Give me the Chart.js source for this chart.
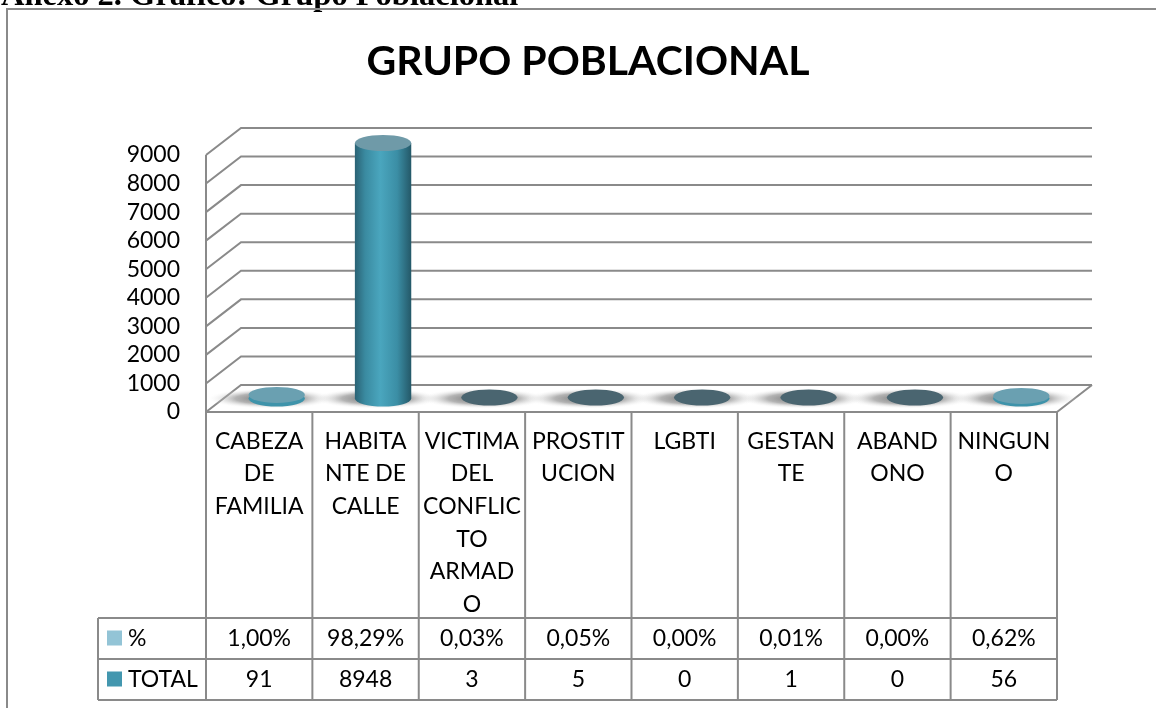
<!DOCTYPE html>
<html>
<head>
<meta charset="utf-8">
<script src="https://cdn.jsdelivr.net/npm/chart.js@4.4.0/dist/chart.umd.min.js"></script>
<style>
  html, body { margin: 0; padding: 0; background: #fff; overflow: hidden; }
</style>
</head>
<body>
<canvas id="grupoChart" width="1156" height="708"></canvas>
<script>
// Grupo poblacional - datos
const categorias = [
    ['CABEZA', 'DE', 'FAMILIA'],
    ['HABITA', 'NTE DE', 'CALLE'],
    ['VICTIMA', 'DEL', 'CONFLIC', 'TO', 'ARMAD', 'O'],
    ['PROSTIT', 'UCION'],
    ['LGBTI'],
    ['GESTAN', 'TE'],
    ['ABAND', 'ONO'],
    ['NINGUN', 'O']
];
const totales = [91, 8948, 3, 5, 0, 1, 0, 56];
const porcentajes = [1.00, 98.29, 0.03, 0.05, 0.00, 0.01, 0.00, 0.62];
const serieNombres = ['%', 'TOTAL'];

const DX = 35, DY = -27;          // profundidad 3D
const LINE = '#8a8a8a';
const FONT = 'Lato, "Open Sans", sans-serif';

function fmtPct(v) { return v.toFixed(2).replace('.', ',') + '%'; }

function ellipse(ctx, cx, cy, rx, ry) {
    ctx.beginPath();
    ctx.ellipse(cx, cy, rx, ry, 0, 0, Math.PI * 2);
}

const decor = {
    id: 'decor',
    beforeDatasetsDraw(chart) {
        const ctx = chart.ctx, a = chart.chartArea, y = chart.scales.y;
        ctx.save();
        // encabezado cortado y marco
        const encabezado = 'Anexo 2. Gráfico: Grupo Poblacional';
        ctx.fillStyle = '#000';
        ctx.font = 'bold 28px "Liberation Serif", serif';
        const fs = 28 * 518 / ctx.measureText(encabezado).width;
        ctx.font = 'bold ' + fs.toFixed(1) + 'px "Liberation Serif", serif';
        ctx.textBaseline = 'alphabetic';
        ctx.fillText(encabezado, 1, 5);
        ctx.strokeStyle = LINE;
        ctx.lineWidth = 2;
        ctx.beginPath();
        ctx.moveTo(7, 708); ctx.lineTo(7, 9); ctx.lineTo(1156, 9);
        ctx.stroke();
        // titulo
        ctx.font = 'bold 41px ' + FONT;
        ctx.textAlign = 'center';
        ctx.textBaseline = 'middle';
        ctx.fillText('GRUPO POBLACIONAL', 588, 62);

        // pared del fondo + lineas de division
        ctx.strokeStyle = LINE;
        ctx.lineWidth = 2;
        y.ticks.forEach(t => {
            const py = y.getPixelForValue(t.value);
            ctx.beginPath();
            ctx.moveTo(a.left, py);
            ctx.lineTo(a.left + DX, py + DY);
            ctx.lineTo(a.right + DX, py + DY);
            ctx.stroke();
        });
        // eje frontal
        ctx.beginPath();
        ctx.moveTo(a.left, y.getPixelForValue(9000));
        ctx.lineTo(a.left, a.bottom);
        ctx.stroke();
        // piso
        ctx.beginPath();
        ctx.moveTo(a.left, a.bottom);
        ctx.lineTo(a.right, a.bottom);
        ctx.lineTo(a.right + DX, a.bottom + DY);
        ctx.stroke();

        // sombras en el piso
        const meta = chart.getDatasetMeta(0);
        meta.data.forEach(el => {
            const cx = el.x + DX / 2, cy = el.base + DY / 2;
            ctx.save();
            ctx.translate(cx, cy);
            ctx.scale(1, 0.16);
            const g = ctx.createRadialGradient(-6, 0, 0, -6, 0, 64);
            g.addColorStop(0, 'rgba(80,80,80,0.9)');
            g.addColorStop(0.55, 'rgba(130,130,130,0.6)');
            g.addColorStop(1, 'rgba(255,255,255,0)');
            ctx.fillStyle = g;
            ellipse(ctx, -6, 0, 64, 64);
            ctx.fill();
            ctx.restore();
        });
        ctx.restore();
    },
    afterDatasetsDraw(chart) {
        const ctx = chart.ctx;
        const meta = chart.getDatasetMeta(0);
        ctx.save();
        meta.data.forEach((el, i) => {
            const cx = el.x + DX / 2;
            const top = el.y + DY / 2, base = el.base + DY / 2;
            const rx = el.width / 2, ry = 8;
            const h = base - top;
            if (h > 6) {
                const g = ctx.createLinearGradient(cx - rx, 0, cx + rx, 0);
                g.addColorStop(0, '#2a6274');
                g.addColorStop(0.18, '#3a8aa0');
                g.addColorStop(0.45, '#4aa6be');
                g.addColorStop(0.75, '#3b8ea5');
                g.addColorStop(1, '#245868');
                ctx.fillStyle = g;
                ctx.beginPath();
                ctx.moveTo(cx - rx, top);
                ctx.lineTo(cx - rx, base);
                ctx.ellipse(cx, base, rx, ry, 0, Math.PI, 0, true);
                ctx.lineTo(cx + rx, top);
                ctx.closePath();
                ctx.fill();
                ctx.fillStyle = '#6f9aa8';
                ellipse(ctx, cx, top, rx, ry);
                ctx.fill();
            } else if (totales[i] > 20) {
                ctx.fillStyle = '#3e93aa';
                ellipse(ctx, cx, base, rx, ry);
                ctx.fill();
                ctx.fillStyle = '#6aa0b1';
                ellipse(ctx, cx, top - 1, rx, ry);
                ctx.fill();
            } else {
                ctx.fillStyle = '#4a6570';
                ellipse(ctx, cx, base - 1, rx, ry);
                ctx.fill();
            }
        });
        ctx.restore();
    },
    afterDraw(chart) {
        const ctx = chart.ctx, a = chart.chartArea;
        const n = categorias.length, w = (a.right - a.left) / n;
        const tTop = 618, rowH = 41, tLeft = 98, tBottom = tTop + rowH * 2;
        ctx.save();
        ctx.strokeStyle = LINE;
        ctx.lineWidth = 2;
        // columnas de categorias
        for (let i = 0; i <= n; i++) {
            const x = a.left + i * w;
            ctx.beginPath();
            ctx.moveTo(x, a.bottom);
            ctx.lineTo(x, tBottom);
            ctx.stroke();
        }
        // filas de la tabla
        for (let r = 0; r <= 2; r++) {
            ctx.beginPath();
            ctx.moveTo(tLeft, tTop + r * rowH);
            ctx.lineTo(a.right, tTop + r * rowH);
            ctx.stroke();
        }
        ctx.beginPath();
        ctx.moveTo(tLeft, tTop);
        ctx.lineTo(tLeft, tBottom);
        ctx.stroke();

        // leyenda + valores
        const colores = ['#93c4d6', '#4397af'];
        const filas = [porcentajes.map(fmtPct), totales.map(String)];
        ctx.font = '23px ' + FONT;
        ctx.textBaseline = 'middle';
        filas.forEach((vals, r) => {
            const cy = tTop + r * rowH + rowH / 2;
            ctx.fillStyle = colores[r];
            ctx.fillRect(107, cy - 8, 15, 15);
            ctx.fillStyle = '#000';
            ctx.textAlign = 'left';
            ctx.fillText(serieNombres[r], 128, cy);
            ctx.textAlign = 'center';
            vals.forEach((v, i) => ctx.fillText(v, a.left + (i + 0.5) * w, cy));
        });
        ctx.restore();
    }
};

new Chart(document.getElementById('grupoChart'), {
    type: 'bar',
    data: {
        labels: categorias,
        datasets: [{
            label: 'TOTAL',
            data: totales,
            backgroundColor: 'rgba(0,0,0,0)',
            categoryPercentage: 1,
            barPercentage: 0.53
        }]
    },
    options: {
        responsive: false,
        animation: false,
        layout: { padding: { top: 155, right: 99, bottom: 0, left: 0 } },
        plugins: { legend: { display: false }, tooltip: { enabled: false } },
        scales: {
            x: {
                grid: { display: false, drawTicks: false },
                border: { display: false },
                ticks: {
                    color: '#000', autoSkip: false, maxRotation: 0, padding: 13,
                    font: { family: FONT, size: 23, lineHeight: 1.42 }
                },
                afterFit: s => { s.height = 296; }
            },
            y: {
                min: 0, max: 9000,
                grid: { display: false, drawTicks: false },
                border: { display: false },
                ticks: {
                    stepSize: 1000, autoSkip: false, color: '#000', padding: 26,
                    font: { family: FONT, size: 23 },
                    callback: v => String(v)
                },
                afterFit: s => { s.width = 206; }
            }
        }
    },
    plugins: [decor]
});
</script>
</body>
</html>
